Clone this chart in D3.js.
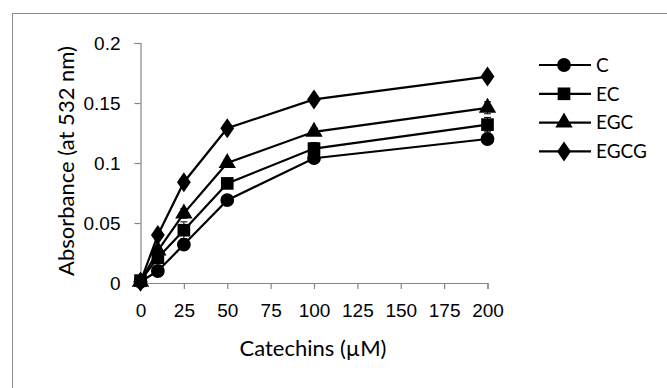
<!DOCTYPE html>
<html>
<head>
<meta charset="utf-8">
<script src="https://cdn.jsdelivr.net/npm/d3@7/dist/d3.min.js"></script>
<style>
  html, body { margin: 0; padding: 0; background: #fff; }
  svg { display: block; font-family: Lato, "Open Sans", sans-serif; }
</style>
</head>
<body>
<svg id="chart" width="667" height="388"></svg>
<script>
// Catechin concentrations (µM)
const concentrations = [0, 10, 25, 50, 100, 200];

// Series names and marker shapes
const seriesNames = ["C", "EC", "EGC", "EGCG"];
const seriesSymbols = ["circle", "square", "triangle", "diamond"];

// Absorbance at 532 nm for each catechin
const valuesC    = [0.001, 0.010, 0.032, 0.069, 0.104, 0.120];
const valuesEC   = [0.002, 0.021, 0.044, 0.083, 0.112, 0.132];
const valuesEGC  = [0.001, 0.027, 0.058, 0.100, 0.126, 0.146];
const valuesEGCG = [0.001, 0.040, 0.084, 0.129, 0.153, 0.172];

// Error bar half-widths
const errorsC    = [0, 0.002, 0.003, 0.003, 0.003, 0.003];
const errorsEC   = [0, 0.003, 0.007, 0.004, 0.005, 0.006];
const errorsEGC  = [0, 0.003, 0.004, 0.003, 0.003, 0.005];
const errorsEGCG = [0, 0.002, 0.002, 0.002, 0.003, 0.004];

// Axis ticks
const xTicks = [0, 25, 50, 75, 100, 125, 150, 175, 200];
const yTicks = [0, 0.05, 0.1, 0.15, 0.2];
const yTickLabels = ["0", "0.05", "0.1", "0.15", "0.2"];

const allValues = [valuesC, valuesEC, valuesEGC, valuesEGCG];
const allErrors = [errorsC, errorsEC, errorsEGC, errorsEGCG];

const series = seriesNames.map((name, i) => ({
  name,
  symbol: seriesSymbols[i],
  points: concentrations.map((c, j) => ({ x: c, y: allValues[i][j], e: allErrors[i][j] }))
}));

const svg = d3.select("#chart");
const axisColor = "#868686";

// Outer frame
svg.append("rect")
  .attr("x", 12.5).attr("y", 13.5)
  .attr("width", 700).attr("height", 400)
  .attr("fill", "none").attr("stroke", "#8c8c8c").attr("stroke-width", 1);

const x = d3.scaleLinear().domain([0, 200]).range([140.5, 487.5]);
const y = d3.scaleLinear().domain([0, 0.2]).range([283, 43]);

// X axis
const xAxis = svg.append("g")
  .attr("transform", `translate(0,${y(0)})`)
  .call(d3.axisBottom(x).tickValues(xTicks).tickSize(6).tickPadding(15).tickFormat(d3.format("d")));
xAxis.select(".domain").attr("stroke", axisColor).attr("stroke-width", 1.2);
xAxis.selectAll(".tick line").attr("stroke", axisColor).attr("stroke-width", 1.2);
xAxis.selectAll(".tick text").attr("fill", "#000").style("font-size", "19px");

// Y axis
const yAxis = svg.append("g")
  .attr("transform", `translate(${x(0)},0)`)
  .call(d3.axisLeft(y).tickValues(yTicks).tickSize(6).tickPadding(14)
    .tickFormat((d, i) => yTickLabels[i]));
yAxis.select(".domain").attr("stroke", axisColor).attr("stroke-width", 1.2);
yAxis.selectAll(".tick line").attr("stroke", axisColor).attr("stroke-width", 1.2);
yAxis.selectAll(".tick text").attr("fill", "#000").style("font-size", "19px");

// Axis titles
svg.append("text")
  .attr("x", 313).attr("y", 356)
  .attr("text-anchor", "middle")
  .style("font-size", "22px")
  .text("Catechins (µM)");

svg.append("text")
  .attr("transform", "translate(74,161) rotate(-90)")
  .attr("text-anchor", "middle")
  .style("font-size", "22px")
  .text("Absorbance (at 532 nm)");

// Marker shapes
const symbolType = {
  circle: d3.symbolCircle,
  square: d3.symbolSquare,
  triangle: d3.symbolTriangle,
  diamond: d3.symbolDiamond
};
const symbolSize = { circle: 150, square: 160, triangle: 130, diamond: 115 };
const symbolPath = s => d3.symbol().type(symbolType[s]).size(symbolSize[s])();

const line = d3.line().x(d => x(d.x)).y(d => y(d.y));

series.forEach(s => {
  const g = svg.append("g");
  g.append("path")
    .datum(s.points)
    .attr("d", line)
    .attr("fill", "none")
    .attr("stroke", "#000")
    .attr("stroke-width", 2.2);

  // Error bars
  const eb = g.selectAll(".err").data(s.points.filter(p => p.e > 0)).enter().append("g");
  eb.append("line")
    .attr("x1", d => x(d.x)).attr("x2", d => x(d.x))
    .attr("y1", d => y(d.y - d.e)).attr("y2", d => y(d.y + d.e))
    .attr("stroke", "#000").attr("stroke-width", 1);
  [1, -1].forEach(sign => {
    eb.append("line")
      .attr("x1", d => x(d.x) - 3.5).attr("x2", d => x(d.x) + 3.5)
      .attr("y1", d => y(d.y + sign * d.e)).attr("y2", d => y(d.y + sign * d.e))
      .attr("stroke", "#000").attr("stroke-width", 1);
  });

  g.selectAll(".mk").data(s.points).enter().append("path")
    .attr("transform", d => `translate(${x(d.x)},${y(d.y)})${s.symbol === "diamond" ? " scale(1.2,1)" : ""}`)
    .attr("d", symbolPath(s.symbol))
    .attr("fill", "#000");
});

// Legend
const legendY0 = 65, legendStep = 28.8;
const legend = svg.append("g");
series.forEach((s, i) => {
  const ly = legendY0 + i * legendStep;
  legend.append("line")
    .attr("x1", 539).attr("x2", 591).attr("y1", ly).attr("y2", ly)
    .attr("stroke", "#000").attr("stroke-width", 2.2);
  legend.append("path")
    .attr("transform", `translate(564,${ly})${s.symbol === "diamond" ? " scale(1.2,1)" : ""}`)
    .attr("d", symbolPath(s.symbol))
    .attr("fill", "#000");
  legend.append("text")
    .attr("x", 596).attr("y", ly)
    .attr("dy", "0.36em")
    .style("font-size", "19px")
    .text(s.name);
});
</script>
</body>
</html>
